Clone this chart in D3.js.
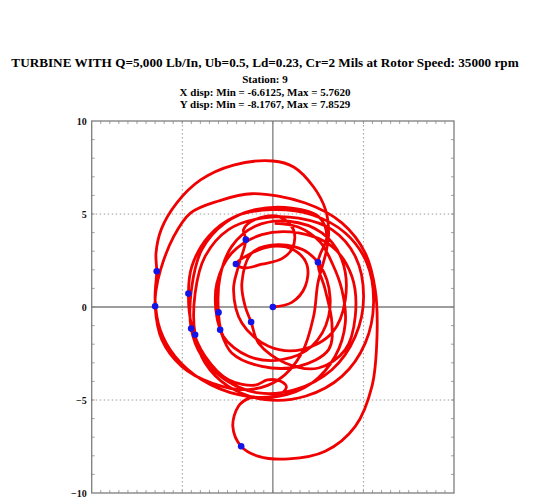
<!DOCTYPE html>
<html>
<head>
<meta charset="utf-8">
<script src="https://cdn.jsdelivr.net/npm/d3@7"></script>
<style>
  body { margin: 0; background: #fff; }
  svg { display: block; }
</style>
</head>
<body>
<svg id="orbit" width="535" height="499"></svg>
<script>
(() => {

    // chart text
    const title_lines = [
        'TURBINE WITH Q=5,000 Lb/In, Ub=0.5, Ld=0.23, Cr=2 Mils at Rotor Speed: 35000 rpm',
        'Station: 9',
        'X disp: Min = -6.6125, Max = 5.7620',
        'Y disp: Min = -8.1767, Max = 7.8529'
    ];
    const y_ticks = [-10, -5, 0, 5, 10];
    const x_ticks = [-10, -5, 0, 5, 10];

    // orbit trace (mils)
    const orbit_x = [
        0, 1.05, 1.79, 1.88, 1.14, -0.06, -1.34, -2.04,
        -1.6, -0.6, 0.5, 1.1, 1.14, 0.31, -0.98, -1.62, -1.49,
        -1.90, -2.17, -1.71, -0.24, 1.60, 3.26, 4.00, 3.81, 2.71, 0.87, -0.98, -2.27, -2.91, -3.00,
        -2.73, -1.34, 0.50, 2.15, 3.08, 2.98, 1.97, 0.31, -1.16, -1.71, -1.53, -1.20,
        -0.79, 0.68, 2.52, 4.00, 4.55, 4.36, 3.26, 1.42, -0.61, -2.27, -3.09, -3.15, -2.91,
        -2.27, -0.61, 1.42, 3.08, 3.26, 2.89, 2.49,
        2.98, 2.52, 1.05, -0.98, -2.63, -3.92, -4.47, -4.51,
        -3.92, -2.63, -0.79, 1.23, 3.26, 4.55, 5.01, 4.55, 3.26, 1.42, -0.61, -2.45, -3.74, -4.29, -4.29,
        -3.74, -2.45, -0.42, 1.79, 3.81, 5.10, 5.56, 5.19, 4.00, 2.15, -0.06, -2.08, -3.55, -4.47, -4.66,
        -4.47, -3.74, -2.45, -0.98, -0.30, 0.40, 0.75, 0.40, -0.40, -1.30, -1.90, -2.21, -1.75,
        -0.79, 0.87, 2.89, 4.55, 5.47, 5.75, 5.65, 5.10, 3.81, 1.79, -1.16, -3.00, -4.55, -5.49, -6.20, -6.45, -6.50,
        -6.13, -5.03, -3.37, -1.34, 0.31, 1.60, 2.25, 2.49, 2.95, 3.08, 2.91, 2.25, 1.15, 0.00, -2.17, -3.99, -5.30, -6.15, -6.45, -6.41,
        -6.50, -6.22, -5.40, -3.92, -1.90, 0.31, 2.15, 3.44, 4.00, 3.81, 3.30, 2.60, 1.40, 0.10
    ];
    const orbit_y = [
        0, 0.25, 1.11, 2.28, 3.08, 3.26, 2.81, 2.31,
        2.1, 2.3, 2.6, 3.2, 4.16, 4.87, 4.70, 4.16, 3.62,
        2.19, 0.93, -0.86, -2.11, -2.29, -1.40, 0.39, 2.54, 3.98, 4.61, 4.34, 3.26, 1.65, -0.29,
        -1.58, -2.65, -2.83, -2.11, -0.50, 1.47, 2.90, 3.35, 2.90, 1.29, 0.04, -0.81,
        -1.94, -3.01, -3.28, -2.29, -0.50, 1.65, 3.26, 3.98, 3.89, 2.90, 1.29, -0.14, -1.22,
        -2.47, -3.19, -3.19, -2.29, -0.86, 0.93, 2.40,
        3.80, 4.87, 5.32, 5.23, 4.52, 3.08, 1.11, -1.16,
        -2.65, -3.91, -4.62, -4.44, -3.37, -1.58, 0.57, 2.72, 4.16, 4.78, 4.78, 4.16, 2.72, 0.75, -1.49,
        -3.01, -4.27, -4.98, -4.80, -3.73, -1.94, 0.22, 2.37, 3.98, 4.96, 5.23, 4.87, 3.80, 2.19, 0.72,
        -1.04, -2.65, -3.91, -4.20, -3.92, -3.98, -4.30, -4.70, -4.85, -4.90, -5.34, -6.42, -7.49,
        -8.03, -8.17, -7.76, -6.42, -4.27, -1.58, 0.93, 2.90, 4.52, 5.59, 6.09, 5.70, 5.05, 3.76, 2.00, 0.90, 0.04,
        -1.76, -3.19, -4.09, -4.44, -3.91, -2.47, -0.50, 1.30, 3.00, 3.98, 5.22, 6.45, 7.53, 7.85, 7.63, 6.83, 5.60, 4.20, 2.90, 1.92,
        0.39, -1.22, -2.65, -3.91, -4.71, -4.80, -4.09, -2.65, -0.86, 0.93, 2.30, 3.50, 4.30, 4.50
    ];

    // once-per-rev markers
    const marker_x = [0, -2.04, -1.49, -3.00, -1.20, -2.91, 2.49, -4.51, -4.29, -4.66, -1.75, -6.50, -6.41];
    const marker_y = [0, 2.31, 3.62, -0.29, -0.81, -1.22, 2.40, -1.16, -1.49, 0.72, -7.49, 0.04, 1.92];

    // layout
    const plot_left = 91.7;
    const plot_right = 454;
    const plot_top = 121;
    const plot_bottom = 493;
    const text_center = 265;

    let svg = d3.select('#orbit');

    let x_scale = d3.scaleLinear().domain([-10, 10]).range([plot_left, plot_right]);
    let y_scale = d3.scaleLinear().domain([-10, 10]).range([plot_bottom, plot_top]);

    // titles
    svg.selectAll('.title')
        .data(title_lines)
        .enter()
        .append('text')
        .attr('x', text_center)
        .attr('y', (d, i) => i == 0 ? 67 : 71 + i * 12.3)
        .attr('text-anchor', 'middle')
        .style('font-family', '"Liberation Serif", "Times New Roman", serif')
        .style('font-weight', 'bold')
        .style('font-size', (d, i) => i == 0 ? '13.2px' : '11px')
        .text((d) => d);

    // grid: solid at zero, dotted at +-5
    let grid = svg.append('g');
    x_ticks.filter((t) => Math.abs(t) != 10).forEach((t) => {
        grid.append('line')
            .attr('x1', x_scale(t)).attr('x2', x_scale(t))
            .attr('y1', plot_top).attr('y2', plot_bottom)
            .attr('stroke', t == 0 ? '#7d7d7d' : '#9a9a9a')
            .attr('stroke-width', t == 0 ? 1.3 : 1)
            .attr('stroke-dasharray', t == 0 ? null : '1.5,2.5');
    });
    y_ticks.filter((t) => Math.abs(t) != 10).forEach((t) => {
        grid.append('line')
            .attr('x1', plot_left).attr('x2', plot_right)
            .attr('y1', y_scale(t)).attr('y2', y_scale(t))
            .attr('stroke', t == 0 ? '#7d7d7d' : '#9a9a9a')
            .attr('stroke-width', t == 0 ? 1.3 : 1)
            .attr('stroke-dasharray', t == 0 ? null : '1.5,2.5');
    });

    // minor ticks on the frame
    let minor = svg.append('g').attr('stroke', '#8a8a8a').attr('stroke-width', 0.8);
    d3.range(-9.5, 10, 0.5).forEach((t) => {
        minor.append('line').attr('x1', x_scale(t)).attr('x2', x_scale(t))
            .attr('y1', plot_top).attr('y2', plot_top + 3);
        minor.append('line').attr('x1', x_scale(t)).attr('x2', x_scale(t))
            .attr('y1', plot_bottom).attr('y2', plot_bottom - 3);
    });
    d3.range(-9, 10, 1).forEach((t) => {
        minor.append('line').attr('y1', y_scale(t)).attr('y2', y_scale(t))
            .attr('x1', plot_left).attr('x2', plot_left + 3);
        minor.append('line').attr('y1', y_scale(t)).attr('y2', y_scale(t))
            .attr('x1', plot_right).attr('x2', plot_right - 3);
    });

    // frame
    svg.append('rect')
        .attr('x', plot_left).attr('y', plot_top)
        .attr('width', plot_right - plot_left).attr('height', plot_bottom - plot_top)
        .attr('fill', 'none')
        .attr('stroke', '#7d7d7d')
        .attr('stroke-width', 1.3);

    // y axis labels (x labels fall below the visible window)
    let y_axis = d3.axisLeft(y_scale).tickValues(y_ticks).tickSize(0).tickPadding(5);
    svg.append('g')
        .attr('transform', `translate(${plot_left}, 0)`)
        .call(y_axis)
        .call((g) => g.select('.domain').remove())
        .selectAll('text')
        .style('font-family', '"Liberation Serif", "Times New Roman", serif')
        .style('font-weight', 'bold')
        .style('font-size', '10px')
        .attr('fill', '#111');

    // orbit
    let points = orbit_x.map((x, i) => [x, orbit_y[i]]);
    svg.append('path')
        .datum(points)
        .attr('fill', 'none')
        .attr('stroke', '#f00000')
        .attr('stroke-width', 2.8)
        .attr('stroke-linejoin', 'round')
        .attr('d', d3.line()
            .x((d) => x_scale(d[0]))
            .y((d) => y_scale(d[1]))
            .curve(d3.curveCatmullRom.alpha(0.5))
        );

    // markers
    svg.selectAll('.marker')
        .data(marker_x.map((x, i) => [x, marker_y[i]]))
        .enter()
        .append('circle')
        .attr('cx', (d) => x_scale(d[0]))
        .attr('cy', (d) => y_scale(d[1]))
        .attr('r', 3.3)
        .attr('fill', '#1414e6');

})();
</script>
</body>
</html>
